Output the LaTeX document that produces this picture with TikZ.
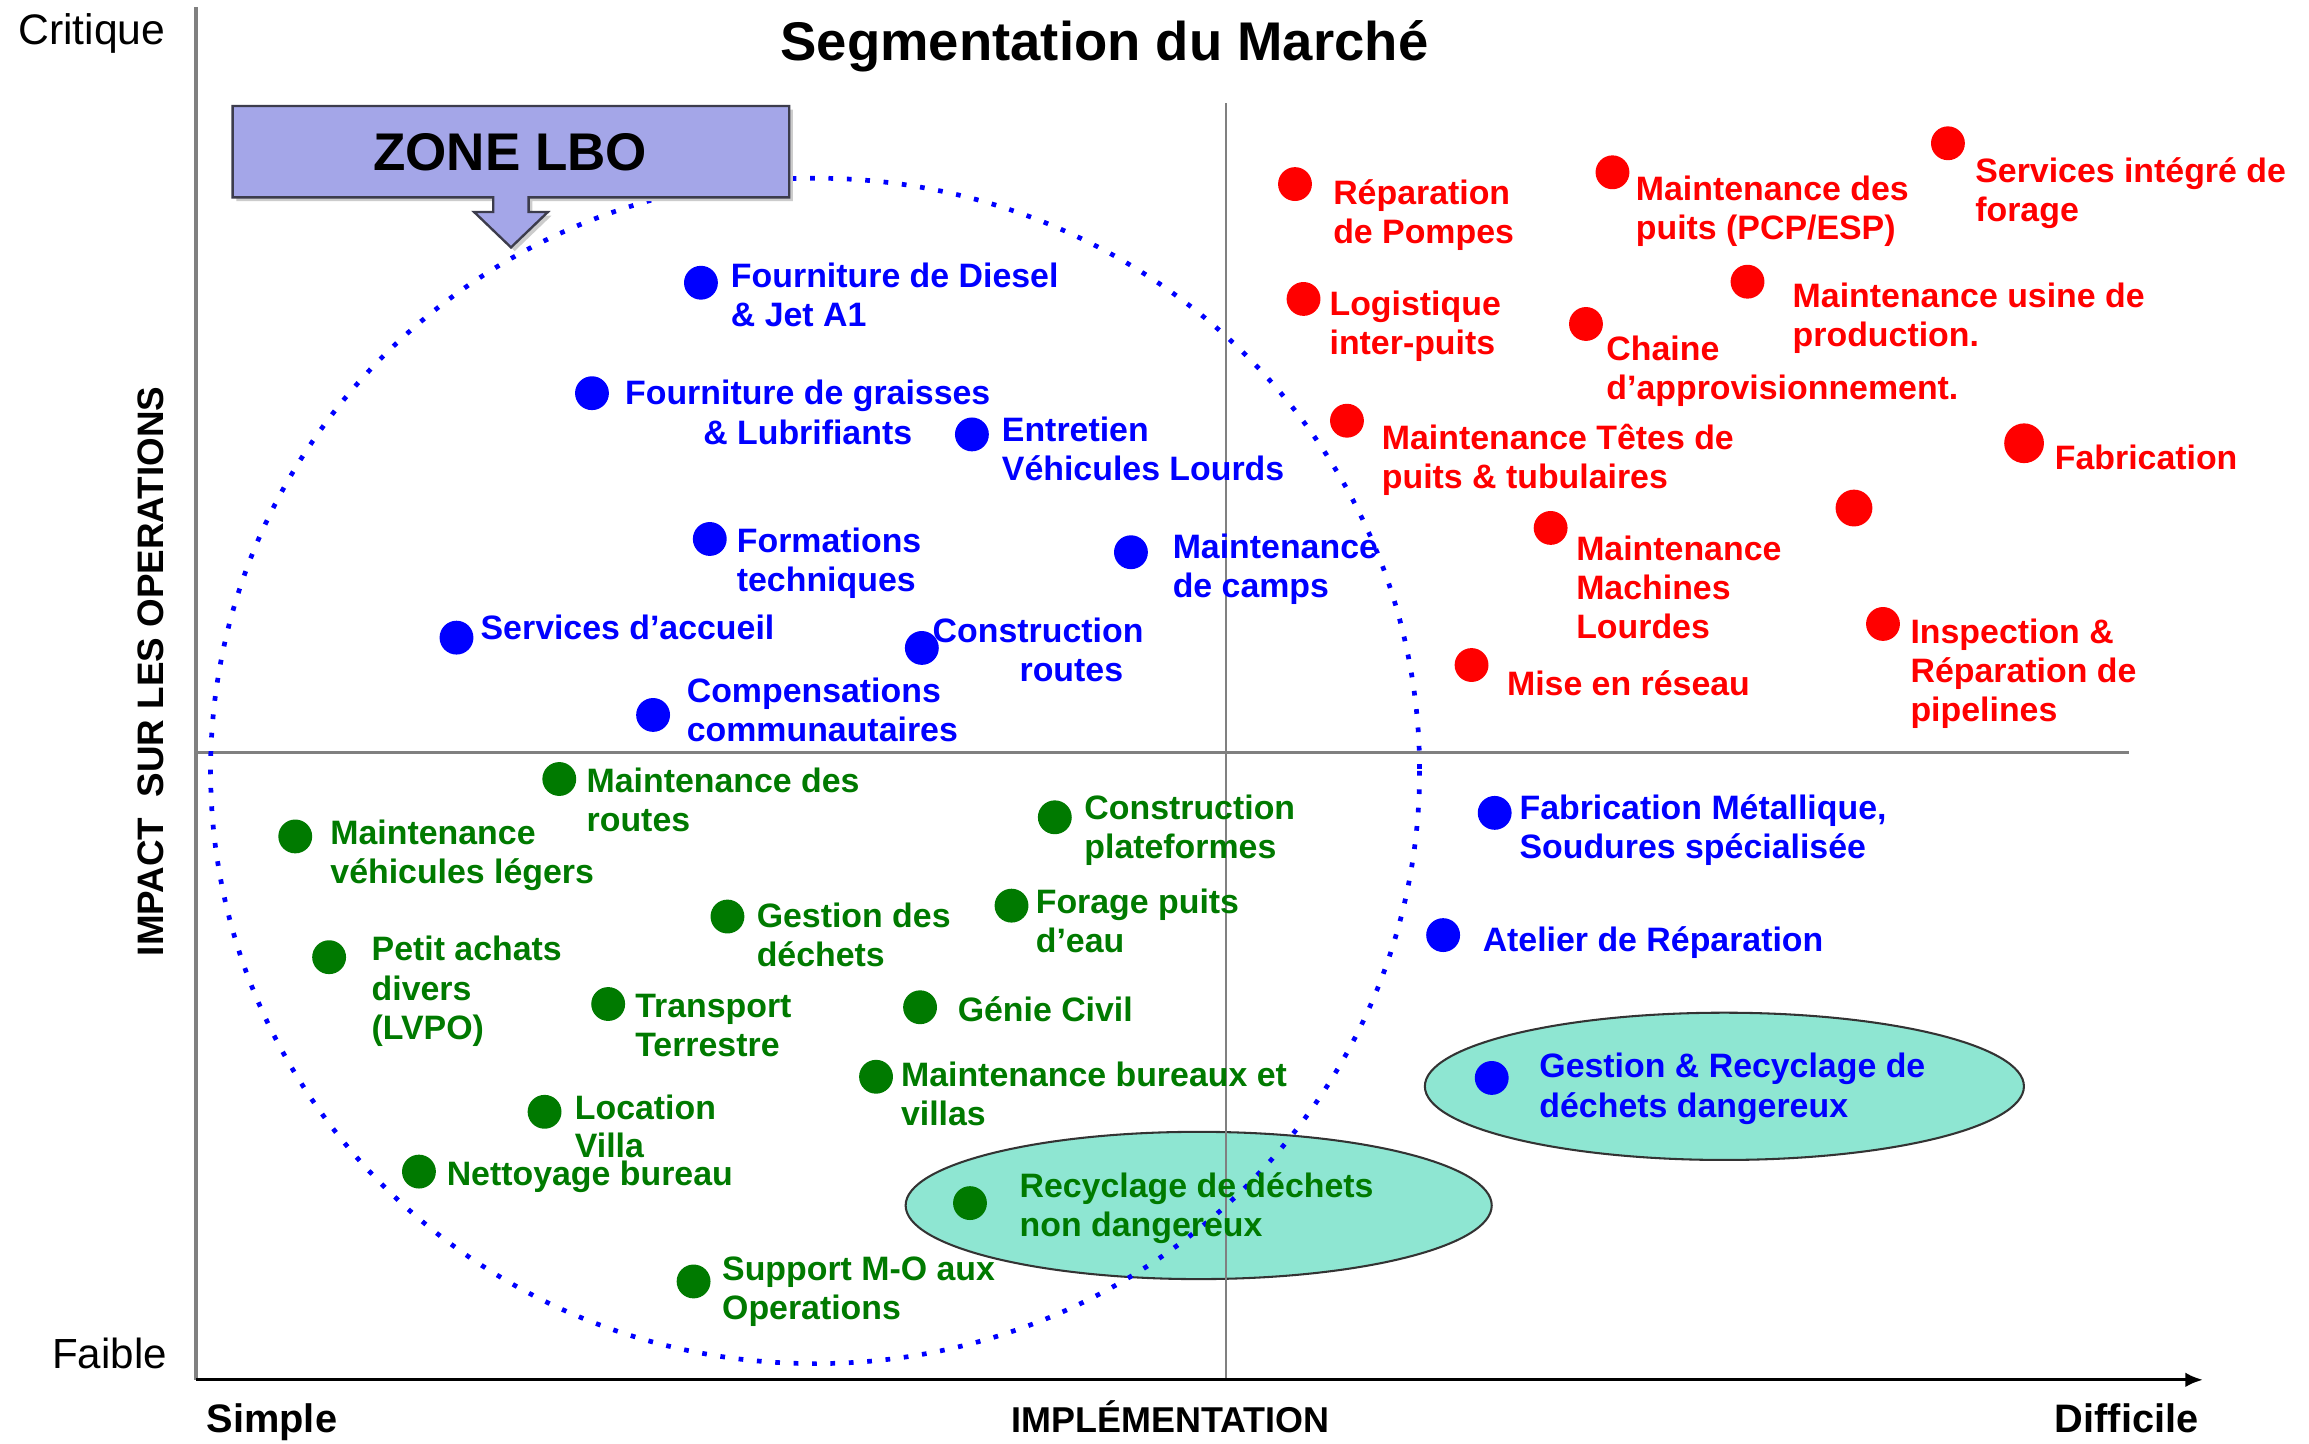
\documentclass[tikz,border=0pt]{standalone}
\usepackage{fontspec}
\setmainfont{Liberation Sans}
\usetikzlibrary{arrows.meta}
\definecolor{cblue}{RGB}{0,0,255}
\definecolor{cred}{RGB}{255,0,0}
\definecolor{cgreen}{RGB}{0,122,0}
\definecolor{aqua}{RGB}{142,230,210}
\definecolor{lav}{RGB}{164,166,232}
\definecolor{gridgray}{RGB}{128,128,128}
\definecolor{boxedge}{RGB}{60,60,76}
\begin{document}
\begin{tikzpicture}[x=0.5pt,y=-0.5pt,
  lbl/.style={inner sep=0pt, anchor=base west, align=left, font=\bfseries\fontsize{11.5pt}{13.3pt}\selectfont},
  dotnode/.style={circle, inner sep=0pt, minimum size=11.5pt},
  bdot/.style={dotnode, fill=cblue},
  rdot/.style={dotnode, fill=cred},
  gdot/.style={dotnode, fill=cgreen},
  blbl/.style={lbl, text=cblue},
  rlbl/.style={lbl, text=cred},
  glbl/.style={lbl, text=cgreen},
  axislbl/.style={inner sep=0pt},
  gridline/.style={draw=gridgray},
  greenzone/.style={fill=aqua, draw=black!80, line width=0.7pt},
  lbozone/.style={fill=lav, draw=boxedge, line width=0.8pt},
]
\useasboundingbox (0,0) rectangle (1568,980);
\fill[white] (0,0) rectangle (1568,980);

% green zones
\draw[greenzone] (814,818.6) ellipse [x radius=199, y radius=50];
\draw[greenzone] (1171,737.7) ellipse [x radius=203.4, y radius=50];

% grid and axes
\draw[gridline, line width=1pt] (133,511) -- (1446,511);
\draw[gridline, line width=0.8pt] (832.5,70) -- (832.5,937);
\draw[gridline, line width=1.2pt] (133,5) -- (133,937);
\coordinate (xorig) at (133,937);
\coordinate (xend) at (1496,937);
\draw[black, line width=1.1pt, -{Latex[length=6pt,width=5pt]}] (xorig) -- (xend);

% dotted LBO zone
\draw[cblue, line width=1.6pt, dash pattern=on 1.6pt off 4.65pt] (553.5,523.5) ellipse [x radius=410.5, y radius=402.5];

% ZONE LBO callout
\begin{scope}[shift={(2.5,2.5)}]
\fill[gray!40] (158,72) -- (536,72) -- (536,134) -- (359,134) -- (359,144) -- (372,144) -- (347,168) -- (322,144) -- (335,144) -- (335,134) -- (158,134) -- cycle;
\end{scope}
\draw[lbozone, line join=miter] (158,72) -- (536,72) -- (536,134) -- (359,134) -- (359,144) -- (372,144) -- (347,168) -- (322,144) -- (335,144) -- (335,134) -- (158,134) -- cycle;
\node[inner sep=0pt, anchor=base, font=\bfseries\fontsize{18pt}{20pt}\selectfont] (zone) at (346.5,115.5) {ZONE LBO};

% title and axis labels
\node[inner sep=0pt, anchor=base, font=\bfseries\fontsize{18.5pt}{20pt}\selectfont] (title) at (750,41) {Segmentation du Marché};
\node[axislbl, anchor=base west, font=\fontsize{14.5pt}{16pt}\selectfont] (crit) at (12,30) {Critique};
\node[axislbl, anchor=base west, font=\fontsize{14.3pt}{16pt}\selectfont] (faible) at (35,929) {Faible};
\node[axislbl, anchor=base west, font=\bfseries\fontsize{13.5pt}{15pt}\selectfont] (simple) at (140,973) {Simple};
\node[axislbl, anchor=base, font=\bfseries\fontsize{12.2pt}{14pt}\selectfont] (impl) at (795,972.5) {IMPLÉMENTATION};
\node[axislbl, anchor=base west, font=\bfseries\fontsize{13.5pt}{15pt}\selectfont] (diff) at (1395,973) {Difficile};
\node[axislbl, anchor=base, rotate=90, font=\bfseries\fontsize{12.5pt}{14pt}\selectfont] (impact) at (111,456) {IMPACT\ \ SUR LES OPERATIONS};

% blue items (label anchors sit on the last line's baseline)
\node[bdot] (b1) at (476,192) {};
\node[blbl] (tb1) at (496,221.6) {Fourniture de Diesel\\\& Jet A1};
\node[bdot] (b2) at (402,267) {};
\node[blbl, align=center, anchor=base] (tb2) at (548.5,301.6) {Fourniture de graisses\\\& Lubrifiants};
\node[bdot] (b3) at (660,295) {};
\node[blbl] (tb3) at (680,326.6) {Entretien\\Véhicules Lourds};
\node[bdot] (b4) at (482,366) {};
\node[blbl] (tb4) at (500,401.6) {Formations\\techniques};
\node[bdot] (b5) at (768,375) {};
\node[blbl] (tb5) at (796,405.6) {Maintenance\\de camps};
\node[bdot] (b6) at (310,433) {};
\node[blbl] (tb6) at (326,434) {Services d’accueil};
\node[bdot] (b7) at (626,440) {};
\node[blbl] (tb7) at (633,462.6) {Construction\\\hspace*{29.5pt}routes};
\node[bdot] (b8) at (443.5,485.5) {};
\node[blbl] (tb8) at (466,503.6) {Compensations\\communautaires};
\node[bdot] (b9) at (1015,552) {};
\node[blbl] (tb9) at (1031.5,583.1) {Fabrication Métallique,\\Soudures spécialisée};
\node[bdot] (b10) at (980,635) {};
\node[blbl] (tb10) at (1006.5,646) {Atelier de Réparation};
\node[bdot] (b11) at (1013,732) {};
\node[blbl] (tb11) at (1045,758.6) {Gestion \& Recyclage de\\déchets dangereux};

% red items
\node[rdot] (r1) at (879.4,125) {};
\node[rlbl] (tr1) at (905,165.6) {Réparation\\de Pompes};
\node[rdot] (r2) at (1095,117) {};
\node[rlbl] (tr2) at (1110.5,162.6) {Maintenance des\\puits (PCP/ESP)};
\node[rdot] (r3) at (1322.8,97.3) {};
\node[rlbl] (tr3) at (1341,150.6) {Services intégré de\\forage};
\node[rdot] (r4) at (885.2,203) {};
\node[rlbl] (tr4) at (902.5,240.6) {Logistique\\inter-puits};
\node[rdot] (r5) at (1077,220) {};
\node[rlbl] (tr5) at (1090.5,271.1) {Chaine\\d’approvisionnement.};
\node[rdot] (r6) at (1186.7,191.3) {};
\node[rlbl] (tr6) at (1217,235.6) {Maintenance usine de\\production.};
\node[rdot] (r7) at (914.7,285.7) {};
\node[rlbl] (tr7) at (938,331.6) {Maintenance Têtes de\\puits \& tubulaires};
\node[rdot, minimum size=13.5pt] (r8) at (1374.5,301) {};
\node[rlbl] (tr8) at (1395,318.5) {Fabrication};
\node[rdot, minimum size=12.5pt] (r9) at (1259,345) {};
\node[rdot] (r10) at (1053,358.5) {};
\node[rlbl] (tr10) at (1070,433.5) {Maintenance\\Machines\\Lourdes};
\node[rdot] (r11) at (999.3,451.6) {};
\node[rlbl] (tr11) at (1023,472) {Mise en réseau};
\node[rdot] (r12) at (1278.7,423.7) {};
\node[rlbl] (tr12) at (1297,490.2) {Inspection \&\\Réparation de\\pipelines};

% green items
\node[gdot] (g1) at (379.8,529) {};
\node[glbl] (tg1) at (398,564.6) {Maintenance des\\routes};
\node[gdot] (g2) at (200.5,568) {};
\node[glbl] (tg2) at (224,600.1) {Maintenance\\véhicules légers};
\node[gdot] (g3) at (716.3,555) {};
\node[glbl] (tg3) at (736,583.1) {Construction\\plateformes};
\node[gdot] (g4) at (494,622.4) {};
\node[glbl] (tg4) at (513.5,656.6) {Gestion des\\déchets};
\node[gdot] (g5) at (686.9,615) {};
\node[glbl] (tg5) at (703,646.6) {Forage puits\\d’eau};
\node[gdot] (g6) at (223.5,650) {};
\node[glbl] (tg6) at (252,705.7) {Petit achats\\divers\\(LVPO)};
\node[gdot] (g7) at (413,681.8) {};
\node[glbl] (tg7) at (431,717.6) {Transport\\Terrestre};
\node[gdot] (g8) at (624.8,684) {};
\node[glbl] (tg8) at (650,693.5) {Génie Civil};
\node[gdot] (g9) at (594.9,731.2) {};
\node[glbl] (tg9) at (611.5,764.1) {Maintenance bureaux et\\villas};
\node[gdot] (g10) at (369.8,755) {};
\node[glbl] (tg10) at (390,785.7) {Location\\[-0.45pt]Villa};
\node[gdot] (g11) at (284.5,795.6) {};
\node[glbl] (tg11) at (303,805) {Nettoyage bureau};
\node[gdot] (g12) at (658.7,817) {};
\node[glbl] (tg12) at (692,839.9) {Recyclage de déchets\\non dangereux};
\node[gdot] (g13) at (471,870.2) {};
\node[glbl] (tg13) at (490,896.2) {Support M-O aux\\Operations};
\end{tikzpicture}
\end{document}
